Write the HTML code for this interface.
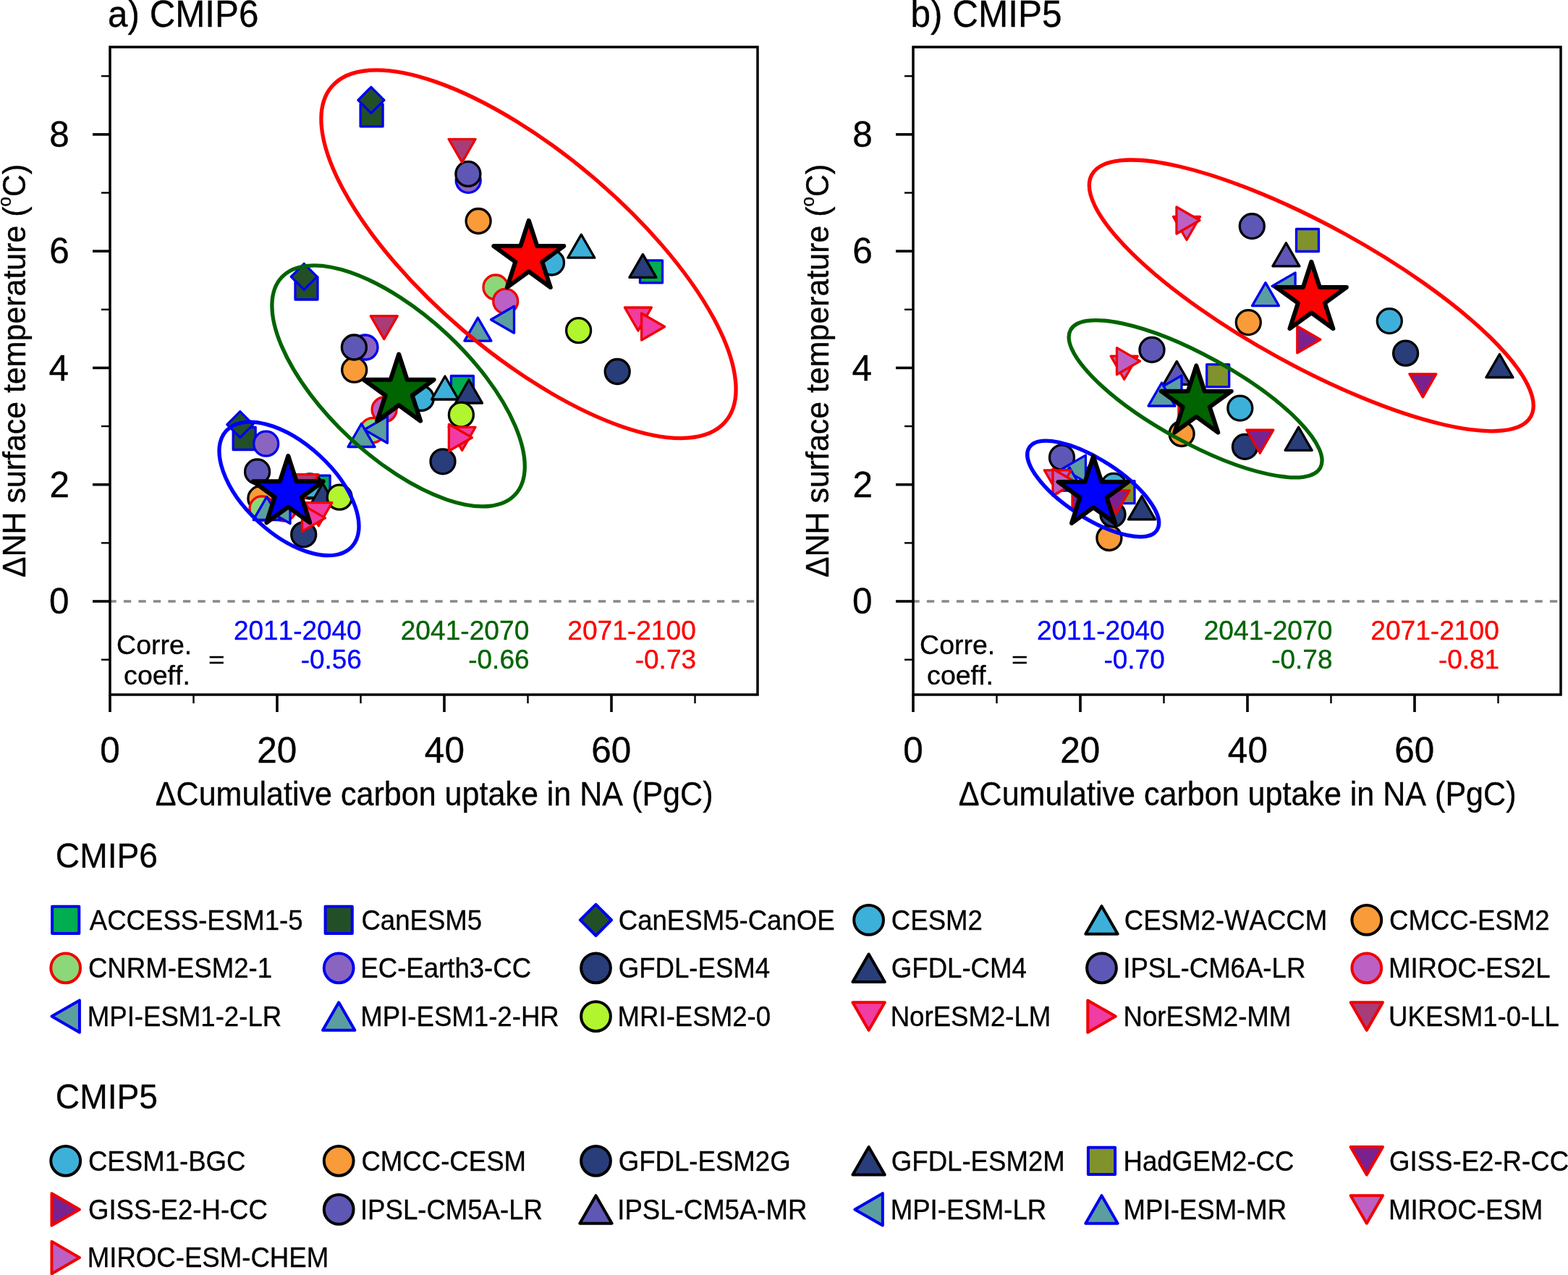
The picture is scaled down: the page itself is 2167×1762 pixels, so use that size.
<!DOCTYPE html>
<html><head><meta charset="utf-8"><title>CMIP6 / CMIP5 carbon uptake vs NH temperature</title>
<style>html,body{margin:0;padding:0;background:#fff;}svg{display:block;}</style>
</head><body>
<svg xmlns="http://www.w3.org/2000/svg" width="2167" height="1762" viewBox="0 0 2167 1762" style="font-kerning:none">
<rect width="2167" height="1762" fill="#fff"/>
<g font-family="'Liberation Sans', Arial, Helvetica, sans-serif" fill="#000" stroke="#000" stroke-width="0.35">
<line x1="152" y1="831" x2="1047" y2="831" stroke="#888" stroke-width="3.6" stroke-dasharray="10.3 10.2" stroke-dashoffset="1.6"/>
<line x1="140" y1="911.65" x2="152" y2="911.65" stroke="#000" stroke-width="2.4"/>
<line x1="128" y1="831" x2="152" y2="831" stroke="#000" stroke-width="3.6"/>
<line x1="140" y1="750.35" x2="152" y2="750.35" stroke="#000" stroke-width="2.4"/>
<line x1="128" y1="669.7" x2="152" y2="669.7" stroke="#000" stroke-width="3.6"/>
<line x1="140" y1="589.05" x2="152" y2="589.05" stroke="#000" stroke-width="2.4"/>
<line x1="128" y1="508.4" x2="152" y2="508.4" stroke="#000" stroke-width="3.6"/>
<line x1="140" y1="427.75" x2="152" y2="427.75" stroke="#000" stroke-width="2.4"/>
<line x1="128" y1="347.1" x2="152" y2="347.1" stroke="#000" stroke-width="3.6"/>
<line x1="140" y1="266.45" x2="152" y2="266.45" stroke="#000" stroke-width="2.4"/>
<line x1="128" y1="185.8" x2="152" y2="185.8" stroke="#000" stroke-width="3.6"/>
<line x1="140" y1="105.15" x2="152" y2="105.15" stroke="#000" stroke-width="2.4"/>
<line x1="152" y1="960" x2="152" y2="984" stroke="#000" stroke-width="3.6"/>
<line x1="267.5" y1="960" x2="267.5" y2="972" stroke="#000" stroke-width="2.4"/>
<line x1="383" y1="960" x2="383" y2="984" stroke="#000" stroke-width="3.6"/>
<line x1="498.5" y1="960" x2="498.5" y2="972" stroke="#000" stroke-width="2.4"/>
<line x1="614" y1="960" x2="614" y2="984" stroke="#000" stroke-width="3.6"/>
<line x1="729.5" y1="960" x2="729.5" y2="972" stroke="#000" stroke-width="2.4"/>
<line x1="845" y1="960" x2="845" y2="984" stroke="#000" stroke-width="3.6"/>
<line x1="960.5" y1="960" x2="960.5" y2="972" stroke="#000" stroke-width="2.4"/>
<rect x="152" y="65" width="895" height="895" fill="none" stroke="#000" stroke-width="3.5"/>
<text transform="translate(68.06 848.38) scale(0.9800 1.0000)" font-size="50.5">0</text>
<text transform="translate(68.62 687.33) scale(0.9800 1.0000)" font-size="50.5">2</text>
<text transform="translate(67.58 525.77) scale(0.9800 1.0000)" font-size="50.5">4</text>
<text transform="translate(68.3 364.48) scale(0.9800 1.0000)" font-size="50.5">6</text>
<text transform="translate(68.28 203.18) scale(0.9800 1.0000)" font-size="50.5">8</text>
<text transform="translate(138.24 1053.68) scale(0.9800 1.0000)" font-size="50.5">0</text>
<text transform="translate(355.2 1053.68) scale(0.9800 1.0000)" font-size="50.5">20</text>
<text transform="translate(586.87 1053.68) scale(0.9800 1.0000)" font-size="50.5">40</text>
<text transform="translate(817.19 1053.68) scale(0.9800 1.0000)" font-size="50.5">60</text>
<text transform="translate(214.82 1112.6) scale(0.9438 1.0000)" font-size="45.64">ΔCumulative carbon uptake in NA (PgC)</text>
<text transform="translate(35.3 798) rotate(-90) scale(0.9550 1)" font-size="44.91"><tspan>ΔNH surface temperature (</tspan><tspan font-size="25.4" dy="-20.8">o</tspan><tspan dy="20.8">C)</tspan></text>
<text transform="translate(149.1 36.55) scale(0.9589 1.0000)" font-size="51.45">a) CMIP6</text>
<text transform="translate(161.1 904) scale(0.9907 1.0000)" font-size="37.79">Corre.</text>
<text transform="translate(171.11 945.7) scale(0.9934 1.0000)" font-size="37.79">coeff.</text>
<text transform="translate(288.04 922.15) scale(1.0300 0.8000)" font-size="37.79">=</text>
<text transform="translate(322.94 883.8) scale(0.9859 1.0000)" font-size="37.5" fill="#0000FF" stroke="#0000FF">2011-2040</text>
<text transform="translate(415.65 924.3) scale(0.9860 1.0000)" font-size="37.5" fill="#0000FF" stroke="#0000FF">-0.56</text>
<text transform="translate(553.63 883.8) scale(0.9910 1.0000)" font-size="37.5" fill="#006400" stroke="#006400">2041-2070</text>
<text transform="translate(647.25 924.3) scale(0.9860 1.0000)" font-size="37.5" fill="#006400" stroke="#006400">-0.66</text>
<text transform="translate(784.23 883.8) scale(0.9904 1.0000)" font-size="37.5" fill="#FF0000" stroke="#FF0000">2071-2100</text>
<text transform="translate(877.75 924.3) scale(0.9860 1.0000)" font-size="37.5" fill="#FF0000" stroke="#FF0000">-0.73</text>
<line x1="1262" y1="831" x2="2157" y2="831" stroke="#888" stroke-width="3.6" stroke-dasharray="10.3 10.2" stroke-dashoffset="1.6"/>
<line x1="1250" y1="911.65" x2="1262" y2="911.65" stroke="#000" stroke-width="2.4"/>
<line x1="1238" y1="831" x2="1262" y2="831" stroke="#000" stroke-width="3.6"/>
<line x1="1250" y1="750.35" x2="1262" y2="750.35" stroke="#000" stroke-width="2.4"/>
<line x1="1238" y1="669.7" x2="1262" y2="669.7" stroke="#000" stroke-width="3.6"/>
<line x1="1250" y1="589.05" x2="1262" y2="589.05" stroke="#000" stroke-width="2.4"/>
<line x1="1238" y1="508.4" x2="1262" y2="508.4" stroke="#000" stroke-width="3.6"/>
<line x1="1250" y1="427.75" x2="1262" y2="427.75" stroke="#000" stroke-width="2.4"/>
<line x1="1238" y1="347.1" x2="1262" y2="347.1" stroke="#000" stroke-width="3.6"/>
<line x1="1250" y1="266.45" x2="1262" y2="266.45" stroke="#000" stroke-width="2.4"/>
<line x1="1238" y1="185.8" x2="1262" y2="185.8" stroke="#000" stroke-width="3.6"/>
<line x1="1250" y1="105.15" x2="1262" y2="105.15" stroke="#000" stroke-width="2.4"/>
<line x1="1262" y1="960" x2="1262" y2="984" stroke="#000" stroke-width="3.6"/>
<line x1="1377.5" y1="960" x2="1377.5" y2="972" stroke="#000" stroke-width="2.4"/>
<line x1="1493" y1="960" x2="1493" y2="984" stroke="#000" stroke-width="3.6"/>
<line x1="1608.5" y1="960" x2="1608.5" y2="972" stroke="#000" stroke-width="2.4"/>
<line x1="1724" y1="960" x2="1724" y2="984" stroke="#000" stroke-width="3.6"/>
<line x1="1839.5" y1="960" x2="1839.5" y2="972" stroke="#000" stroke-width="2.4"/>
<line x1="1955" y1="960" x2="1955" y2="984" stroke="#000" stroke-width="3.6"/>
<line x1="2070.5" y1="960" x2="2070.5" y2="972" stroke="#000" stroke-width="2.4"/>
<rect x="1262" y="65" width="895" height="895" fill="none" stroke="#000" stroke-width="3.5"/>
<text transform="translate(1178.06 848.38) scale(0.9800 1.0000)" font-size="50.5">0</text>
<text transform="translate(1178.62 687.33) scale(0.9800 1.0000)" font-size="50.5">2</text>
<text transform="translate(1177.58 525.77) scale(0.9800 1.0000)" font-size="50.5">4</text>
<text transform="translate(1178.3 364.48) scale(0.9800 1.0000)" font-size="50.5">6</text>
<text transform="translate(1178.28 203.18) scale(0.9800 1.0000)" font-size="50.5">8</text>
<text transform="translate(1248.24 1053.68) scale(0.9800 1.0000)" font-size="50.5">0</text>
<text transform="translate(1465.2 1053.68) scale(0.9800 1.0000)" font-size="50.5">20</text>
<text transform="translate(1696.87 1053.68) scale(0.9800 1.0000)" font-size="50.5">40</text>
<text transform="translate(1927.19 1053.68) scale(0.9800 1.0000)" font-size="50.5">60</text>
<text transform="translate(1324.82 1112.6) scale(0.9438 1.0000)" font-size="45.64">ΔCumulative carbon uptake in NA (PgC)</text>
<text transform="translate(1145.3 798) rotate(-90) scale(0.9550 1)" font-size="44.91"><tspan>ΔNH surface temperature (</tspan><tspan font-size="25.4" dy="-20.8">o</tspan><tspan dy="20.8">C)</tspan></text>
<text transform="translate(1258.61 36.55) scale(0.9612 1.0000)" font-size="51.45">b) CMIP5</text>
<text transform="translate(1271.1 904) scale(0.9907 1.0000)" font-size="37.79">Corre.</text>
<text transform="translate(1281.11 945.7) scale(0.9934 1.0000)" font-size="37.79">coeff.</text>
<text transform="translate(1398.04 922.15) scale(1.0300 0.8000)" font-size="37.79">=</text>
<text transform="translate(1432.94 883.8) scale(0.9859 1.0000)" font-size="37.5" fill="#0000FF" stroke="#0000FF">2011-2040</text>
<text transform="translate(1525.47 924.3) scale(0.9860 1.0000)" font-size="37.5" fill="#0000FF" stroke="#0000FF">-0.70</text>
<text transform="translate(1663.63 883.8) scale(0.9910 1.0000)" font-size="37.5" fill="#006400" stroke="#006400">2041-2070</text>
<text transform="translate(1757.23 924.3) scale(0.9860 1.0000)" font-size="37.5" fill="#006400" stroke="#006400">-0.78</text>
<text transform="translate(1894.23 883.8) scale(0.9904 1.0000)" font-size="37.5" fill="#FF0000" stroke="#FF0000">2071-2100</text>
<text transform="translate(1987.93 924.3) scale(0.9860 1.0000)" font-size="37.5" fill="#FF0000" stroke="#FF0000">-0.81</text>
</g>
<polygon points="425.1,657.1 456.1,657.1 456.1,688.1 425.1,688.1" fill="#00AD50" stroke="#0000F0" stroke-width="3.3" stroke-linejoin="round"/>
<polygon points="322.2,590.5 353.2,590.5 353.2,621.5 322.2,621.5" fill="#234F27" stroke="#0000F0" stroke-width="3.3" stroke-linejoin="round"/>
<polygon points="331.8,568.6 349.8,586.6 331.8,604.6 313.8,586.6" fill="#234F27" stroke="#0000F0" stroke-width="3.3" stroke-linejoin="round"/>
<circle cx="428" cy="672" r="17" fill="#3DB0DA" stroke="#000000" stroke-width="3.3"/>
<polygon points="436,655.98 454.5,688.02 417.5,688.02" fill="#3DB0DA" stroke="#000000" stroke-width="3.3" stroke-linejoin="round"/>
<circle cx="359.9" cy="688.9" r="17" fill="#F99B38" stroke="#000000" stroke-width="3.3"/>
<circle cx="362" cy="702.9" r="17" fill="#8CD778" stroke="#F00000" stroke-width="3.3"/>
<circle cx="367.7" cy="613.2" r="17" fill="#8A65C0" stroke="#0000F0" stroke-width="3.3"/>
<circle cx="419.7" cy="738.8" r="17" fill="#283D7A" stroke="#000000" stroke-width="3.3"/>
<polygon points="446,667.98 464.5,700.02 427.5,700.02" fill="#283D7A" stroke="#000000" stroke-width="3.3" stroke-linejoin="round"/>
<circle cx="355.6" cy="651.9" r="17" fill="#5E57B5" stroke="#000000" stroke-width="3.3"/>
<circle cx="392" cy="703" r="17" fill="#BC60C4" stroke="#F00000" stroke-width="3.3"/>
<polygon points="368.98,705 401.02,686.5 401.02,723.5" fill="#5B9EA0" stroke="#0000F0" stroke-width="3.3" stroke-linejoin="round"/>
<polygon points="368.7,686.48 387.2,718.52 350.2,718.52" fill="#5B9EA0" stroke="#0000F0" stroke-width="3.3" stroke-linejoin="round"/>
<circle cx="469.2" cy="687.2" r="17" fill="#B0F52E" stroke="#000000" stroke-width="3.3"/>
<polygon points="421.8,694.68 458.8,694.68 440.3,726.72" fill="#F03CA3" stroke="#F00000" stroke-width="3.3" stroke-linejoin="round"/>
<polygon points="417.48,697.4 449.52,715.9 417.48,734.4" fill="#F03CA3" stroke="#F00000" stroke-width="3.3" stroke-linejoin="round"/>
<polygon points="403,655.68 440,655.68 421.5,687.72" fill="#A83C78" stroke="#F00000" stroke-width="3.3" stroke-linejoin="round"/>
<polygon points="623.4,519.5 654.4,519.5 654.4,550.5 623.4,550.5" fill="#00AD50" stroke="#0000F0" stroke-width="3.3" stroke-linejoin="round"/>
<polygon points="408,383 439,383 439,414 408,414" fill="#234F27" stroke="#0000F0" stroke-width="3.3" stroke-linejoin="round"/>
<polygon points="420.2,364.3 438.2,382.3 420.2,400.3 402.2,382.3" fill="#234F27" stroke="#0000F0" stroke-width="3.3" stroke-linejoin="round"/>
<circle cx="582.3" cy="550.5" r="17" fill="#3DB0DA" stroke="#000000" stroke-width="3.3"/>
<polygon points="615,519.98 633.5,552.02 596.5,552.02" fill="#3DB0DA" stroke="#000000" stroke-width="3.3" stroke-linejoin="round"/>
<circle cx="489.7" cy="511.2" r="17" fill="#F99B38" stroke="#000000" stroke-width="3.3"/>
<circle cx="514.9" cy="594.7" r="17" fill="#8CD778" stroke="#F00000" stroke-width="3.3"/>
<circle cx="505" cy="480" r="17" fill="#8A65C0" stroke="#0000F0" stroke-width="3.3"/>
<circle cx="612" cy="637.8" r="17" fill="#283D7A" stroke="#000000" stroke-width="3.3"/>
<polygon points="648,524.98 666.5,557.02 629.5,557.02" fill="#283D7A" stroke="#000000" stroke-width="3.3" stroke-linejoin="round"/>
<circle cx="489.4" cy="480" r="17" fill="#5E57B5" stroke="#000000" stroke-width="3.3"/>
<circle cx="531.1" cy="566" r="17" fill="#BC60C4" stroke="#F00000" stroke-width="3.3"/>
<polygon points="503.38,593.8 535.42,575.3 535.42,612.3" fill="#5B9EA0" stroke="#0000F0" stroke-width="3.3" stroke-linejoin="round"/>
<polygon points="499.5,585.48 518,617.52 481,617.52" fill="#5B9EA0" stroke="#0000F0" stroke-width="3.3" stroke-linejoin="round"/>
<circle cx="637.4" cy="573.2" r="17" fill="#B0F52E" stroke="#000000" stroke-width="3.3"/>
<polygon points="620.1,590.28 657.1,590.28 638.6,622.32" fill="#F03CA3" stroke="#F00000" stroke-width="3.3" stroke-linejoin="round"/>
<polygon points="620.38,586.3 652.42,604.8 620.38,623.3" fill="#F03CA3" stroke="#F00000" stroke-width="3.3" stroke-linejoin="round"/>
<polygon points="512.3,436.58 549.3,436.58 530.8,468.62" fill="#A83C78" stroke="#F00000" stroke-width="3.3" stroke-linejoin="round"/>
<polygon points="884.5,359.8 915.5,359.8 915.5,390.8 884.5,390.8" fill="#00AD50" stroke="#0000F0" stroke-width="3.3" stroke-linejoin="round"/>
<polygon points="498.1,143.8 529.1,143.8 529.1,174.8 498.1,174.8" fill="#234F27" stroke="#0000F0" stroke-width="3.3" stroke-linejoin="round"/>
<polygon points="512.9,120.3 530.9,138.3 512.9,156.3 494.9,138.3" fill="#234F27" stroke="#0000F0" stroke-width="3.3" stroke-linejoin="round"/>
<circle cx="762.5" cy="363" r="17" fill="#3DB0DA" stroke="#000000" stroke-width="3.3"/>
<polygon points="803.3,324.18 821.8,356.22 784.8,356.22" fill="#3DB0DA" stroke="#000000" stroke-width="3.3" stroke-linejoin="round"/>
<circle cx="661.1" cy="305.5" r="17" fill="#F99B38" stroke="#000000" stroke-width="3.3"/>
<circle cx="685" cy="397" r="17" fill="#8CD778" stroke="#F00000" stroke-width="3.3"/>
<circle cx="647.2" cy="249.3" r="17" fill="#8A65C0" stroke="#0000F0" stroke-width="3.3"/>
<circle cx="853.2" cy="513.5" r="17" fill="#283D7A" stroke="#000000" stroke-width="3.3"/>
<polygon points="888.4,351.38 906.9,383.42 869.9,383.42" fill="#283D7A" stroke="#000000" stroke-width="3.3" stroke-linejoin="round"/>
<circle cx="646.9" cy="240.4" r="17" fill="#5E57B5" stroke="#000000" stroke-width="3.3"/>
<circle cx="698.7" cy="416.3" r="17" fill="#BC60C4" stroke="#F00000" stroke-width="3.3"/>
<polygon points="678.48,441.7 710.52,423.2 710.52,460.2" fill="#5B9EA0" stroke="#0000F0" stroke-width="3.3" stroke-linejoin="round"/>
<polygon points="660.4,439.08 678.9,471.12 641.9,471.12" fill="#5B9EA0" stroke="#0000F0" stroke-width="3.3" stroke-linejoin="round"/>
<circle cx="799.6" cy="456.7" r="17" fill="#B0F52E" stroke="#000000" stroke-width="3.3"/>
<polygon points="863.4,424.98 900.4,424.98 881.9,457.02" fill="#F03CA3" stroke="#F00000" stroke-width="3.3" stroke-linejoin="round"/>
<polygon points="886.58,433 918.62,451.5 886.58,470" fill="#F03CA3" stroke="#F00000" stroke-width="3.3" stroke-linejoin="round"/>
<polygon points="620.1,192.28 657.1,192.28 638.6,224.32" fill="#A83C78" stroke="#F00000" stroke-width="3.3" stroke-linejoin="round"/>
<circle cx="1539.1" cy="671.4" r="17" fill="#3DB0DA" stroke="#000000" stroke-width="3.3"/>
<circle cx="1532.9" cy="743.5" r="17" fill="#F99B38" stroke="#000000" stroke-width="3.3"/>
<circle cx="1538" cy="711" r="17" fill="#283D7A" stroke="#000000" stroke-width="3.3"/>
<polygon points="1578,685.78 1596.5,717.82 1559.5,717.82" fill="#283D7A" stroke="#000000" stroke-width="3.3" stroke-linejoin="round"/>
<polygon points="1537,664.7 1568,664.7 1568,695.7 1537,695.7" fill="#80922C" stroke="#0000F0" stroke-width="3.3" stroke-linejoin="round"/>
<polygon points="1524,677.98 1561,677.98 1542.5,710.02" fill="#7A2190" stroke="#F00000" stroke-width="3.3" stroke-linejoin="round"/>
<polygon points="1481.98,666.5 1514.02,685 1481.98,703.5" fill="#7A2190" stroke="#F00000" stroke-width="3.3" stroke-linejoin="round"/>
<circle cx="1467.5" cy="632.2" r="17" fill="#5E57B5" stroke="#000000" stroke-width="3.3"/>
<polygon points="1505,643.98 1523.5,676.02 1486.5,676.02" fill="#5E57B5" stroke="#000000" stroke-width="3.3" stroke-linejoin="round"/>
<polygon points="1468.38,647.6 1500.42,629.1 1500.42,666.1" fill="#5B9EA0" stroke="#0000F0" stroke-width="3.3" stroke-linejoin="round"/>
<polygon points="1478,645.98 1496.5,678.02 1459.5,678.02" fill="#5B9EA0" stroke="#0000F0" stroke-width="3.3" stroke-linejoin="round"/>
<polygon points="1443.3,649.78 1480.3,649.78 1461.8,681.82" fill="#BC60C4" stroke="#F00000" stroke-width="3.3" stroke-linejoin="round"/>
<polygon points="1454.98,648 1487.02,666.5 1454.98,685" fill="#BC60C4" stroke="#F00000" stroke-width="3.3" stroke-linejoin="round"/>
<circle cx="1713.8" cy="564.1" r="17" fill="#3DB0DA" stroke="#000000" stroke-width="3.3"/>
<circle cx="1633.1" cy="599.5" r="17" fill="#F99B38" stroke="#000000" stroke-width="3.3"/>
<circle cx="1720.5" cy="617.4" r="17" fill="#283D7A" stroke="#000000" stroke-width="3.3"/>
<polygon points="1794.6,590.28 1813.1,622.32 1776.1,622.32" fill="#283D7A" stroke="#000000" stroke-width="3.3" stroke-linejoin="round"/>
<polygon points="1667.7,503.7 1698.7,503.7 1698.7,534.7 1667.7,534.7" fill="#80922C" stroke="#0000F0" stroke-width="3.3" stroke-linejoin="round"/>
<polygon points="1722.8,594.18 1759.8,594.18 1741.3,626.22" fill="#7A2190" stroke="#F00000" stroke-width="3.3" stroke-linejoin="round"/>
<polygon points="1628.98,547.5 1661.02,566 1628.98,584.5" fill="#7A2190" stroke="#F00000" stroke-width="3.3" stroke-linejoin="round"/>
<circle cx="1592" cy="483.4" r="17" fill="#5E57B5" stroke="#000000" stroke-width="3.3"/>
<polygon points="1626.3,499.38 1644.8,531.42 1607.8,531.42" fill="#5E57B5" stroke="#000000" stroke-width="3.3" stroke-linejoin="round"/>
<polygon points="1600.98,537.5 1633.02,519 1633.02,556" fill="#5B9EA0" stroke="#0000F0" stroke-width="3.3" stroke-linejoin="round"/>
<polygon points="1605.5,528.98 1624,561.02 1587,561.02" fill="#5B9EA0" stroke="#0000F0" stroke-width="3.3" stroke-linejoin="round"/>
<polygon points="1535.2,492.18 1572.2,492.18 1553.7,524.22" fill="#BC60C4" stroke="#F00000" stroke-width="3.3" stroke-linejoin="round"/>
<polygon points="1543.48,480.6 1575.52,499.1 1543.48,517.6" fill="#BC60C4" stroke="#F00000" stroke-width="3.3" stroke-linejoin="round"/>
<circle cx="1920.3" cy="443.6" r="17" fill="#3DB0DA" stroke="#000000" stroke-width="3.3"/>
<circle cx="1725.3" cy="445.6" r="17" fill="#F99B38" stroke="#000000" stroke-width="3.3"/>
<circle cx="1942.6" cy="488.2" r="17" fill="#283D7A" stroke="#000000" stroke-width="3.3"/>
<polygon points="2072.4,489.48 2090.9,521.52 2053.9,521.52" fill="#283D7A" stroke="#000000" stroke-width="3.3" stroke-linejoin="round"/>
<polygon points="1791.5,316.5 1822.5,316.5 1822.5,347.5 1791.5,347.5" fill="#80922C" stroke="#0000F0" stroke-width="3.3" stroke-linejoin="round"/>
<polygon points="1947.9,516.78 1984.9,516.78 1966.4,548.82" fill="#7A2190" stroke="#F00000" stroke-width="3.3" stroke-linejoin="round"/>
<polygon points="1792.78,450.7 1824.82,469.2 1792.78,487.7" fill="#7A2190" stroke="#F00000" stroke-width="3.3" stroke-linejoin="round"/>
<circle cx="1730.3" cy="312.6" r="17" fill="#5E57B5" stroke="#000000" stroke-width="3.3"/>
<polygon points="1777.4,335.78 1795.9,367.82 1758.9,367.82" fill="#5E57B5" stroke="#000000" stroke-width="3.3" stroke-linejoin="round"/>
<polygon points="1758.08,395.4 1790.12,376.9 1790.12,413.9" fill="#5B9EA0" stroke="#0000F0" stroke-width="3.3" stroke-linejoin="round"/>
<polygon points="1749,390.58 1767.5,422.62 1730.5,422.62" fill="#5B9EA0" stroke="#0000F0" stroke-width="3.3" stroke-linejoin="round"/>
<polygon points="1621.5,299.48 1658.5,299.48 1640,331.52" fill="#BC60C4" stroke="#F00000" stroke-width="3.3" stroke-linejoin="round"/>
<polygon points="1625.98,286 1658.02,304.5 1625.98,323" fill="#BC60C4" stroke="#F00000" stroke-width="3.3" stroke-linejoin="round"/>
<ellipse cx="399.5" cy="675.4" rx="118.1" ry="62.3" transform="rotate(42.72 399.5 675.4)" fill="none" stroke="#0000FF" stroke-width="5.3"/>
<ellipse cx="550.6" cy="533.4" rx="220.4" ry="98.3" transform="rotate(42.94 550.6 533.4)" fill="none" stroke="#006400" stroke-width="5.3"/>
<ellipse cx="730.5" cy="351.2" rx="357.2" ry="138.7" transform="rotate(40.37 730.5 351.2)" fill="none" stroke="#FF0000" stroke-width="5.3"/>
<ellipse cx="1510.7" cy="675.5" rx="105.1" ry="40.1" transform="rotate(32.93 1510.7 675.5)" fill="none" stroke="#0000FF" stroke-width="5.3"/>
<ellipse cx="1652.1" cy="551.2" rx="197.1" ry="59.7" transform="rotate(28.9 1652.1 551.2)" fill="none" stroke="#006400" stroke-width="5.3"/>
<ellipse cx="1812.3" cy="408.4" rx="346.3" ry="96.9" transform="rotate(28.84 1812.3 408.4)" fill="none" stroke="#FF0000" stroke-width="5.3"/>
<polygon points="398.3,630 409.76,665.22 446.8,665.24 416.85,687.03 428.28,722.26 398.3,700.5 368.32,722.26 379.75,687.03 349.8,665.24 386.84,665.22" fill="#0000FF" stroke="#000" stroke-width="6" stroke-linejoin="round"/>
<polygon points="551.2,489.5 562.66,524.72 599.7,524.74 569.75,546.53 581.18,581.76 551.2,560 521.22,581.76 532.65,546.53 502.7,524.74 539.74,524.72" fill="#006400" stroke="#000" stroke-width="6" stroke-linejoin="round"/>
<polygon points="730.8,304.8 742.26,340.02 779.3,340.04 749.35,361.83 760.78,397.06 730.8,375.3 700.82,397.06 712.25,361.83 682.3,340.04 719.34,340.02" fill="#FF0000" stroke="#000" stroke-width="6" stroke-linejoin="round"/>
<polygon points="1511,630.7 1522.46,665.92 1559.5,665.94 1529.55,687.73 1540.98,722.96 1511,701.2 1481.02,722.96 1492.45,687.73 1462.5,665.94 1499.54,665.92" fill="#0000FF" stroke="#000" stroke-width="6" stroke-linejoin="round"/>
<polygon points="1653.3,505.4 1664.76,540.62 1701.8,540.64 1671.85,562.43 1683.28,597.66 1653.3,575.9 1623.32,597.66 1634.75,562.43 1604.8,540.64 1641.84,540.62" fill="#006400" stroke="#000" stroke-width="6" stroke-linejoin="round"/>
<polygon points="1812.4,361.8 1823.86,397.02 1860.9,397.04 1830.95,418.83 1842.38,454.06 1812.4,432.3 1782.42,454.06 1793.85,418.83 1763.9,397.04 1800.94,397.02" fill="#FF0000" stroke="#000" stroke-width="6" stroke-linejoin="round"/>
<g font-family="'Liberation Sans', Arial, Helvetica, sans-serif" fill="#000" stroke="#000" stroke-width="0.35">
<text transform="translate(76.85 1199.2) scale(0.9487 1.0000)" font-size="48.69">CMIP6</text>
<text transform="translate(76.85 1532.2) scale(0.9490 1.0000)" font-size="48.69">CMIP5</text>
<polygon points="72.1,1252.8 109.3,1252.8 109.3,1290 72.1,1290" fill="#00AD50" stroke="#0000F0" stroke-width="4" stroke-linejoin="round"/>
<text transform="translate(123.73 1284.6) scale(0.9470 1.0000)" font-size="38.66">ACCESS-ESM1-5</text>
<polygon points="449.6,1252.8 486.8,1252.8 486.8,1290 449.6,1290" fill="#234F27" stroke="#0000F0" stroke-width="4" stroke-linejoin="round"/>
<text transform="translate(499.44 1284.6) scale(0.9470 1.0000)" font-size="38.66">CanESM5</text>
<polygon points="823.5,1249.8 845.1,1271.4 823.5,1293 801.9,1271.4" fill="#234F27" stroke="#0000F0" stroke-width="4" stroke-linejoin="round"/>
<text transform="translate(854.74 1284.6) scale(0.9470 1.0000)" font-size="38.66">CanESM5-CanOE</text>
<circle cx="1200.6" cy="1271.4" r="20.4" fill="#3DB0DA" stroke="#000000" stroke-width="4"/>
<text transform="translate(1231.84 1284.6) scale(0.9470 1.0000)" font-size="38.66">CESM2</text>
<polygon points="1522.5,1252.17 1544.7,1290.63 1500.3,1290.63" fill="#3DB0DA" stroke="#000000" stroke-width="4" stroke-linejoin="round"/>
<text transform="translate(1553.74 1284.6) scale(0.9470 1.0000)" font-size="38.66">CESM2-WACCM</text>
<circle cx="1888.8" cy="1271.4" r="20.4" fill="#F99B38" stroke="#000000" stroke-width="4"/>
<text transform="translate(1920.04 1284.6) scale(0.9470 1.0000)" font-size="38.66">CMCC-ESM2</text>
<circle cx="90.7" cy="1337.8" r="20.4" fill="#8CD778" stroke="#F00000" stroke-width="4"/>
<text transform="translate(121.94 1351) scale(0.9470 1.0000)" font-size="38.66">CNRM-ESM2-1</text>
<circle cx="468.2" cy="1337.8" r="20.4" fill="#8A65C0" stroke="#0000F0" stroke-width="4"/>
<text transform="translate(498.3 1351) scale(0.9470 1.0000)" font-size="38.66">EC-Earth3-CC</text>
<circle cx="823.5" cy="1337.8" r="20.4" fill="#283D7A" stroke="#000000" stroke-width="4"/>
<text transform="translate(854.76 1351) scale(0.9470 1.0000)" font-size="38.66">GFDL-ESM4</text>
<polygon points="1200.6,1318.57 1222.8,1357.03 1178.4,1357.03" fill="#283D7A" stroke="#000000" stroke-width="4" stroke-linejoin="round"/>
<text transform="translate(1231.86 1351) scale(0.9470 1.0000)" font-size="38.66">GFDL-CM4</text>
<circle cx="1522.5" cy="1337.8" r="20.4" fill="#5E57B5" stroke="#000000" stroke-width="4"/>
<text transform="translate(1552.22 1351) scale(0.9470 1.0000)" font-size="38.66">IPSL-CM6A-LR</text>
<circle cx="1888.8" cy="1337.8" r="20.4" fill="#BC60C4" stroke="#F00000" stroke-width="4"/>
<text transform="translate(1918.9 1351) scale(0.9470 1.0000)" font-size="38.66">MIROC-ES2L</text>
<polygon points="71.47,1404.6 109.93,1382.4 109.93,1426.8" fill="#5B9EA0" stroke="#0000F0" stroke-width="4" stroke-linejoin="round"/>
<text transform="translate(120.8 1417.8) scale(0.9470 1.0000)" font-size="38.66">MPI-ESM1-2-LR</text>
<polygon points="468.2,1385.37 490.4,1423.83 446,1423.83" fill="#5B9EA0" stroke="#0000F0" stroke-width="4" stroke-linejoin="round"/>
<text transform="translate(498.3 1417.8) scale(0.9470 1.0000)" font-size="38.66">MPI-ESM1-2-HR</text>
<circle cx="823.5" cy="1404.6" r="20.4" fill="#B0F52E" stroke="#000000" stroke-width="4"/>
<text transform="translate(853.6 1417.8) scale(0.9470 1.0000)" font-size="38.66">MRI-ESM2-0</text>
<polygon points="1178.4,1385.37 1222.8,1385.37 1200.6,1423.83" fill="#F03CA3" stroke="#F00000" stroke-width="4" stroke-linejoin="round"/>
<text transform="translate(1230.7 1417.8) scale(0.9470 1.0000)" font-size="38.66">NorESM2-LM</text>
<polygon points="1503.27,1382.4 1541.73,1404.6 1503.27,1426.8" fill="#F03CA3" stroke="#F00000" stroke-width="4" stroke-linejoin="round"/>
<text transform="translate(1552.6 1417.8) scale(0.9470 1.0000)" font-size="38.66">NorESM2-MM</text>
<polygon points="1866.6,1385.37 1911,1385.37 1888.8,1423.83" fill="#A83C78" stroke="#F00000" stroke-width="4" stroke-linejoin="round"/>
<text transform="translate(1919.08 1417.8) scale(0.9470 1.0000)" font-size="38.66">UKESM1-0-LL</text>
<circle cx="90.7" cy="1604.3" r="20.4" fill="#3DB0DA" stroke="#000000" stroke-width="4"/>
<text transform="translate(121.94 1617.5) scale(0.9470 1.0000)" font-size="38.66">CESM1-BGC</text>
<circle cx="468.2" cy="1604.3" r="20.4" fill="#F99B38" stroke="#000000" stroke-width="4"/>
<text transform="translate(499.44 1617.5) scale(0.9470 1.0000)" font-size="38.66">CMCC-CESM</text>
<circle cx="823.5" cy="1604.3" r="20.4" fill="#283D7A" stroke="#000000" stroke-width="4"/>
<text transform="translate(854.76 1617.5) scale(0.9470 1.0000)" font-size="38.66">GFDL-ESM2G</text>
<polygon points="1200.6,1585.07 1222.8,1623.53 1178.4,1623.53" fill="#283D7A" stroke="#000000" stroke-width="4" stroke-linejoin="round"/>
<text transform="translate(1231.86 1617.5) scale(0.9470 1.0000)" font-size="38.66">GFDL-ESM2M</text>
<polygon points="1503.9,1585.7 1541.1,1585.7 1541.1,1622.9 1503.9,1622.9" fill="#80922C" stroke="#0000F0" stroke-width="4" stroke-linejoin="round"/>
<text transform="translate(1552.6 1617.5) scale(0.9470 1.0000)" font-size="38.66">HadGEM2-CC</text>
<polygon points="1866.6,1585.07 1911,1585.07 1888.8,1623.53" fill="#7A2190" stroke="#F00000" stroke-width="4" stroke-linejoin="round"/>
<text transform="translate(1920.06 1617.5) scale(0.9470 1.0000)" font-size="38.66">GISS-E2-R-CC</text>
<polygon points="71.47,1649.2 109.93,1671.4 71.47,1693.6" fill="#7A2190" stroke="#F00000" stroke-width="4" stroke-linejoin="round"/>
<text transform="translate(121.96 1684.6) scale(0.9470 1.0000)" font-size="38.66">GISS-E2-H-CC</text>
<circle cx="468.2" cy="1671.4" r="20.4" fill="#5E57B5" stroke="#000000" stroke-width="4"/>
<text transform="translate(497.92 1684.6) scale(0.9470 1.0000)" font-size="38.66">IPSL-CM5A-LR</text>
<polygon points="823.5,1652.17 845.7,1690.63 801.3,1690.63" fill="#5E57B5" stroke="#000000" stroke-width="4" stroke-linejoin="round"/>
<text transform="translate(853.22 1684.6) scale(0.9470 1.0000)" font-size="38.66">IPSL-CM5A-MR</text>
<polygon points="1181.37,1671.4 1219.83,1649.2 1219.83,1693.6" fill="#5B9EA0" stroke="#0000F0" stroke-width="4" stroke-linejoin="round"/>
<text transform="translate(1230.7 1684.6) scale(0.9470 1.0000)" font-size="38.66">MPI-ESM-LR</text>
<polygon points="1522.5,1652.17 1544.7,1690.63 1500.3,1690.63" fill="#5B9EA0" stroke="#0000F0" stroke-width="4" stroke-linejoin="round"/>
<text transform="translate(1552.6 1684.6) scale(0.9470 1.0000)" font-size="38.66">MPI-ESM-MR</text>
<polygon points="1866.6,1652.17 1911,1652.17 1888.8,1690.63" fill="#BC60C4" stroke="#F00000" stroke-width="4" stroke-linejoin="round"/>
<text transform="translate(1918.9 1684.6) scale(0.9470 1.0000)" font-size="38.66">MIROC-ESM</text>
<polygon points="71.47,1715.8 109.93,1738 71.47,1760.2" fill="#BC60C4" stroke="#F00000" stroke-width="4" stroke-linejoin="round"/>
<text transform="translate(120.8 1751.2) scale(0.9470 1.0000)" font-size="38.66">MIROC-ESM-CHEM</text>
</g>
</svg>
</body></html>
